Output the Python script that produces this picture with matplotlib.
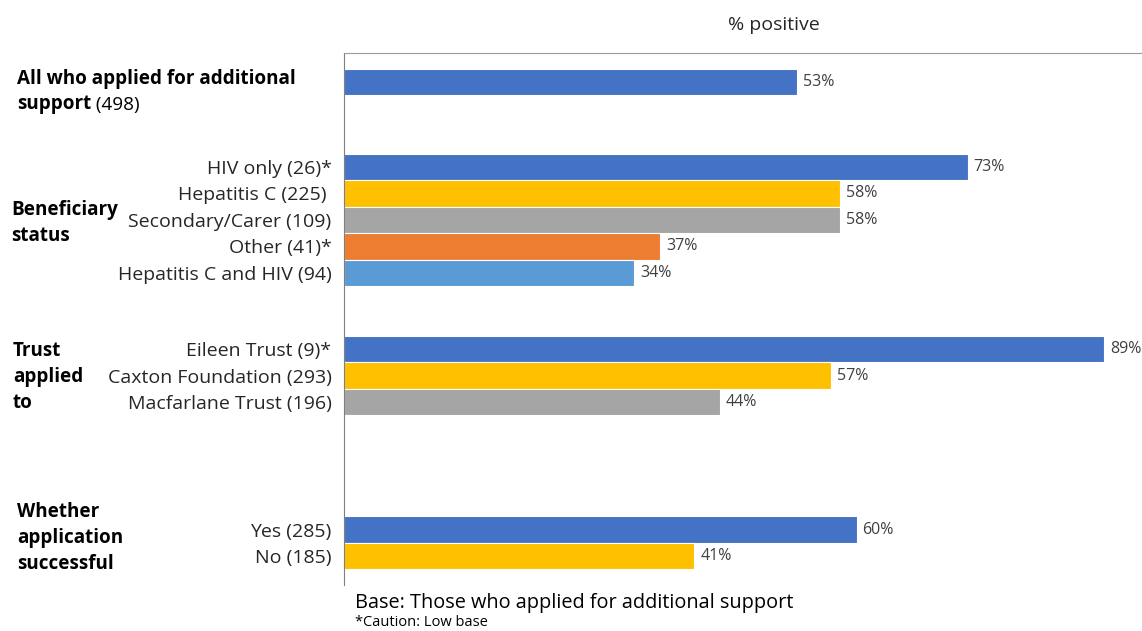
import matplotlib
matplotlib.use("Agg")
import matplotlib.pyplot as plt
import matplotlib.transforms as mtransforms

# Datos del grafico
categorias = ["", "HIV only (26)*", "Hepatitis C (225) ", "Secondary/Carer (109)",
              "Other (41)*", "Hepatitis C and HIV (94)",
              "Eileen Trust (9)*", "Caxton Foundation (293)", "Macfarlane Trust (196)",
              "Yes (285)", "No (185)"]
valores = [53, 73, 58, 58, 37, 34, 89, 57, 44, 60, 41]
grupos = [1, 5, 3, 2]
titulos_grupo = ["", "Beneficiary\nstatus", "Trust\napplied\nto", "Whether\napplication\nsuccessful"]

azul = "#4472C4"
amarillo = "#FFC000"
gris = "#A5A5A5"
naranja = "#ED7D31"
celeste = "#5B9BD5"
colores = [azul, azul, amarillo, gris, naranja, celeste, azul, amarillo, gris, azul, amarillo]

# Posiciones de las filas (huecos entre grupos)
huecos = [0, 3.2, 2.87, 4.8]
posiciones = []
centros = []
y = -1
for n, g in enumerate(grupos):
    y += huecos[n] if n > 0 else 1
    inicio = y
    for i in range(g):
        posiciones.append(y)
        y += 1
    y -= 1
    centros.append((inicio + y) / 2)

plt.rcParams['font.family'] = ['Open Sans', 'DejaVu Sans']

fig = plt.figure(figsize=(11.42, 6.31), dpi=100)
ax = fig.add_axes([344 / 1142, 1 - 585 / 631, 1 - 344 / 1142, (585 - 53) / 631])

ax.barh(posiciones, valores, height=1.0, color=colores, edgecolor="white", linewidth=0.8)

for p, v in zip(posiciones, valores):
    ax.text(v + 0.7, p, f"{v}%", va="center", ha="left", fontsize=11.5, color="#404040")

ax.set_xlim(0, 93.4)
ax.set_ylim(posiciones[-1] + 1.09, -1.09)
ax.set_yticks(posiciones)
ax.set_yticklabels(categorias, fontsize=14, color="#262626")
ax.tick_params(axis="y", length=0, pad=9)
ax.set_xticks([])
for lado in ["right", "bottom"]:
    ax.spines[lado].set_visible(False)
ax.spines["left"].set_color("#7F7F7F")
ax.spines["top"].set_color("#9A9A9A")

trans = mtransforms.blended_transform_factory(fig.transFigure, ax.transData)

# Primer grupo con texto en negrita y normal
t1 = ax.text(17 / 1142, centros[0] + 0.25, "All who applied for additional", transform=trans,
             fontsize=13.6, fontweight="bold", va="bottom", ha="left", color="black")
t2 = ax.text(17 / 1142, centros[0] + 0.45, "support", transform=trans,
             fontsize=13.6, fontweight="bold", va="top", ha="left", color="black")
ax.annotate(" (498)", xy=(1, 0), xycoords=t2, va="bottom", ha="left", fontsize=13.6, color="black")

xs_grupo = [17, 11, 13, 17]
ajuste = [0, 0.12, 0.05, -0.2]
for n in range(1, 4):
    ax.text(xs_grupo[n] / 1142, centros[n] + ajuste[n], titulos_grupo[n], transform=trans,
            fontsize=13.6, fontweight="bold", va="center", ha="left", linespacing=1.4)

fig.text(774 / 1142, 1 - 25 / 631, "% positive", ha="center", va="center", fontsize=14, color="#262626")
fig.text(355 / 1142, 1 - 603 / 631, "Base: Those who applied for additional support", ha="left",
         va="center", fontsize=14.3, color="black")
fig.text(355 / 1142, 1 - 622 / 631, "*Caution: Low base", ha="left", va="center", fontsize=10.5, color="black")

fig.savefig("out.png", dpi=100)
